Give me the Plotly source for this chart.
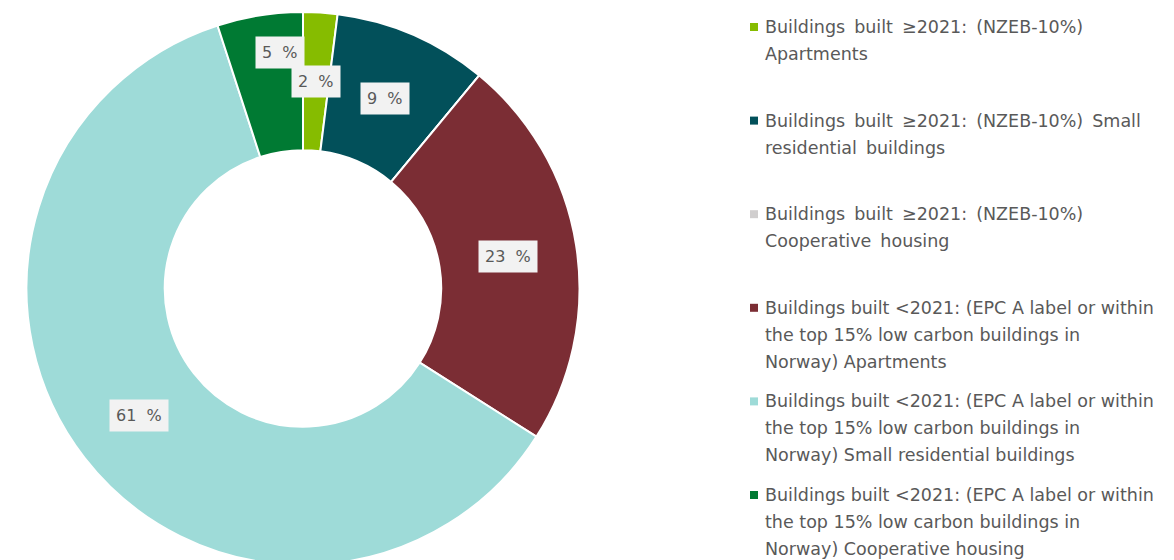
import math

import plotly.graph_objects as go

# ------------------------------------------------------------------ #
# DATA
# ------------------------------------------------------------------ #
categories = [
    "Buildings\u2009 built\u2009 ≥2021:\u2009 (NZEB-10%)<br>Apartments",
    "Buildings\u2009 built\u2009 ≥2021:\u2009 (NZEB-10%)\u2009 Small<br>residential\u2009 buildings",
    "Buildings\u2009 built\u2009 ≥2021:\u2009 (NZEB-10%)<br>Cooperative\u2009 housing",
    "Buildings built <2021: (EPC A label or within<br>the top 15% low carbon buildings in<br>Norway) Apartments",
    "Buildings built <2021: (EPC A label or within<br>the top 15% low carbon buildings in<br>Norway) Small residential buildings",
    "Buildings built <2021: (EPC A label or within<br>the top 15% low carbon buildings in<br>Norway) Cooperative housing",
]
shares = [2, 9, 0, 23, 61, 5]
colors = ["#86bc00", "#02505a", "#d0cece", "#7b2d34", "#9edbd8", "#007a33"]

# ------------------------------------------------------------------ #
# LAYOUT CONSTANTS
# ------------------------------------------------------------------ #
W, H = 1174, 570
CX, CY, R = 303, 288.5, 276.5          # pie centre / radius in px
HOLE = 0.5
TEXT_GREY = "#595959"
FONT = "DejaVu Sans, sans-serif"
label_nudge = {5: (9, 31)}             # px shift for crowded labels (by slice index)

LEG_X, LEG_TOP, LEG_PITCH, LEG_LINE = 763, 27, 93.6, 27


def px_to_paper(x, y):
    return x / W, 1 - y / H


fig = go.Figure(
    go.Pie(
        labels=categories,
        values=shares,
        hole=HOLE,
        sort=False,
        direction="clockwise",
        rotation=0,
        marker=dict(colors=colors, line=dict(color="white", width=2)),
        textinfo="none",
        showlegend=False,
        hoverinfo="label+percent",
        domain=dict(
            x=[(CX - R) / W, (CX + R) / W],
            y=[1 - (CY + R) / H, 1 - (CY - R) / H],
        ),
    )
)

# slice labels in light boxes, placed mid-ring
total = sum(shares)
cum = 0
r_mid = R * (1 + HOLE) / 2
for i, v in enumerate(shares):
    theta = 2 * math.pi * (cum + v / 2) / total
    cum += v
    if v == 0:
        continue
    x, y = px_to_paper(CX + r_mid * math.sin(theta), CY - r_mid * math.cos(theta))
    dx, dy = label_nudge.get(i, (0, 0))
    fig.add_annotation(
        x=x, y=y, xref="paper", yref="paper",
        xanchor="center", yanchor="middle",
        text=f"{v}\u00a0 %", showarrow=False,
        xshift=dx, yshift=dy,
        font=dict(family=FONT, size=16, color=TEXT_GREY),
        bgcolor="#f2f2f2", borderpad=6,
    )

# legend drawn by hand for the wide line spacing
for i, (lab, col) in enumerate(zip(categories, colors)):
    top = LEG_TOP + i * LEG_PITCH
    for j, line in enumerate(lab.split("<br>")):
        x, y = px_to_paper(LEG_X, top + j * LEG_LINE)
        fig.add_annotation(
            x=x, y=y, xref="paper", yref="paper",
            text=line, showarrow=False, xanchor="left", yanchor="middle",
            font=dict(family=FONT, size=17.5, color=TEXT_GREY),
        )
    x0, y0 = px_to_paper(750, top - 4)
    x1, y1 = px_to_paper(758, top + 4)
    fig.add_shape(type="rect", xref="paper", yref="paper",
                  x0=x0, x1=x1, y0=y0, y1=y1, fillcolor=col, line_width=0)

fig.update_layout(
    width=W,
    height=H,
    margin=dict(t=0, b=0, l=0, r=0),
    paper_bgcolor="white",
    plot_bgcolor="white",
)

fig.write_html(
    "out.html",
    config={"displayModeBar": False},
    post_script="document.body.style.margin='0';"
                "document.body.style.overflow='hidden';"
                "document.documentElement.style.overflow='hidden';",
)
